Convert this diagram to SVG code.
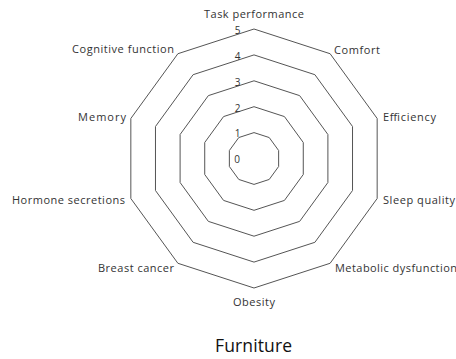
<svg xmlns="http://www.w3.org/2000/svg" width="456" height="359" viewBox="0 0 456 359">
<style>
.ring{fill:none;stroke:#555;stroke-width:1}
.lbl{font-family:"Open Sans","Liberation Sans",sans-serif;font-size:11px;fill:#333}
.num{font-family:"Open Sans","Liberation Sans",sans-serif;font-size:10px;fill:#333;text-anchor:middle}
.title{font-family:"Open Sans","Liberation Sans",sans-serif;font-size:17.5px;fill:#111;text-anchor:middle}
</style>
<rect width="456" height="359" fill="#fff"/>
<g id="grid">
<polygon class="ring" points="254,29 330.12,53.73 377.17,118.48 377.17,198.52 330.12,263.27 254,288 177.88,263.27 130.83,198.52 130.83,118.48 177.88,53.73"/>
<polygon class="ring" points="254,54.9 314.9,74.69 352.53,126.49 352.53,190.51 314.9,242.31 254,262.1 193.1,242.31 155.47,190.51 155.47,126.49 193.1,74.69"/>
<polygon class="ring" points="254,80.8 299.67,95.64 327.9,134.49 327.9,182.51 299.67,221.36 254,236.2 208.33,221.36 180.1,182.51 180.1,134.49 208.33,95.64"/>
<polygon class="ring" points="254,106.7 284.45,116.59 303.27,142.49 303.27,174.51 284.45,200.41 254,210.3 223.55,200.41 204.73,174.51 204.73,142.49 223.55,116.59"/>
<polygon class="ring" points="254,132.6 269.22,137.55 278.63,150.5 278.63,166.5 269.22,179.45 254,184.4 238.78,179.45 229.37,166.5 229.37,150.5 238.78,137.55"/>
</g>
<g id="scale">
<text class="num" x="237.5" y="33.5">5</text>
<text class="num" x="237.5" y="60">4</text>
<text class="num" x="237.5" y="86.3">3</text>
<text class="num" x="237.5" y="111.5">2</text>
<text class="num" x="237.5" y="136.5">1</text>
<text class="num" x="237" y="163">0</text>
</g>
<g id="connectors"></g>
<g id="task-performance"><text class="lbl" x="254" y="17.5" text-anchor="middle" textLength="100">Task performance</text></g>
<g id="comfort"><text class="lbl" x="334" y="54" textLength="46">Comfort</text></g>
<g id="efficiency"><text class="lbl" x="383" y="120.5" textLength="53">Efficiency</text></g>
<g id="sleep-quality"><text class="lbl" x="383" y="203.5" textLength="72">Sleep quality</text></g>
<g id="metabolic-dysfunction"><text class="lbl" x="335" y="271.5" textLength="122">Metabolic dysfunction</text></g>
<g id="obesity"><text class="lbl" x="254" y="305.5" text-anchor="middle" textLength="42">Obesity</text></g>
<g id="breast-cancer"><text class="lbl" x="174" y="271.5" text-anchor="end" textLength="76">Breast cancer</text></g>
<g id="hormone-secretions"><text class="lbl" x="125" y="203.5" text-anchor="end" textLength="113">Hormone secretions</text></g>
<g id="memory"><text class="lbl" x="126" y="120.5" text-anchor="end" textLength="48">Memory</text></g>
<g id="cognitive-function"><text class="lbl" x="174" y="53" text-anchor="end" textLength="102">Cognitive function</text></g>
<g id="title"><text class="title" x="253.5" y="351.5" textLength="77">Furniture</text></g>
</svg>
